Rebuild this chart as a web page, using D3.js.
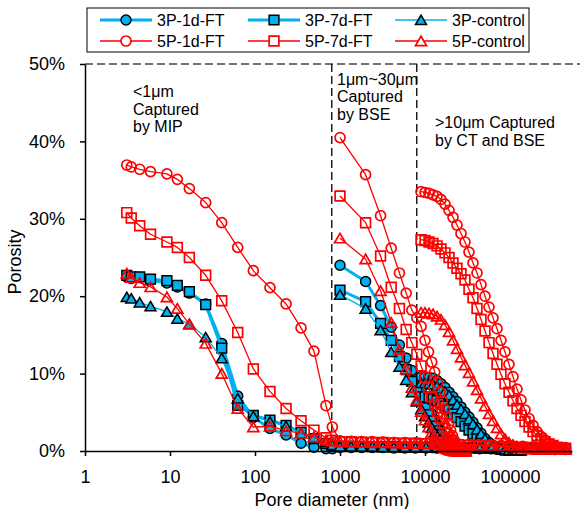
<!DOCTYPE html>
<html><head><meta charset="utf-8">
<script src="https://cdn.jsdelivr.net/npm/d3@7"></script>
<style>body{margin:0;background:#fff;} text{font-family:"Liberation Sans",Arial,sans-serif;}</style>
</head><body>
<script>
// ---- data (porosity in %) ----
const seriesNames = ["3P-1d-FT","3P-7d-FT","3P-control","5P-1d-FT","5P-7d-FT","5P-control"];
const xTicks = [1,10,100,1000,10000,100000];
const yTicks = [0,10,20,30,40,50];
const boundaries = [800, 8000];

const mipD = [3.1,3.5,4.4,5.9,9.2,12.2,16.9,26.3,40.6,62.6,95.6,150,232,348,494,684,812,
  1000,1350,1800,2400,3200,4300,5800,7700,10300,13800,18500,24700,33000,44000,59000,79000,106000,141000,189000,252000,337000,450000];
const bseD = [1000,2000,3000,4000,5000,6000,7000,8000,9000,10000,11000,12000,13000,14000,15000,
  16000,17000,18000,19000,20000,21000,22000,23000,24000,25000,26000,27000,28000,29000,30000];
const ctD = [8970,10000,11140,12420,13840,15420,17180,19150,21340,23780,26500,29530,32910,36700,40900,45580,
  50800,56600,63100,70300,78300,87300,97300,108400,120800,134600,150000,167300,186500,207800,231600,258100,
  287600,320500,357200,398100,443600];

const mip3P1d = [22.5,22.3,22.4,22.1,21.7,21.2,20.4,19.0,13.9,7.1,4.35,2.9,2.07,1.0,0.5,0.3,0.3,
  0.45,0.45,0.45,0.45,0.45,0.4,0.4,0.4,0.4,0.4,0.35,0.35,0.35,0.3,0.3,0.3,0.3,0.25,0.25,0.25,0.2,0.2];
const mip3P7d = [22.7,22.5,22.5,22.2,22.0,21.4,20.6,18.9,13.3,5.9,4.6,4.0,3.3,2.4,1.6,1.0,0.7,
  0.6,0.6,0.6,0.55,0.55,0.55,0.5,0.5,0.5,0.45,0.45,0.45,0.4,0.4,0.4,0.35,0.35,0.35,0.3,0.3,0.3,0.3];
const mip3Pc = [19.9,19.7,19.2,18.7,18.0,17.1,16.4,14.7,12.0,6.8,4.5,3.8,3.2,2.3,1.8,1.2,0.8,
  0.6,0.6,0.55,0.55,0.5,0.5,0.5,0.45,0.45,0.45,0.4,0.4,0.4,0.35,0.35,0.35,0.3,0.3,0.3,0.3,0.25,0.25];
const mip5P1d = [36.95,36.7,36.4,36.1,35.8,35.1,33.9,32.1,29.5,26.3,23.3,21.1,19.0,15.9,12.9,5.85,3.1,
  1.3,1.25,1.2,1.2,1.15,1.1,1.1,1.05,1.0,1.0,0.95,0.9,0.85,0.8,0.75,0.7,0.65,0.6,0.55,0.5,0.5,0.45];
const mip5P7d = [30.8,30.1,29.1,28.0,27.0,26.3,25.0,22.7,19.4,15.3,10.6,7.7,5.5,3.9,2.7,1.7,1.4,
  1.2,1.2,1.15,1.1,1.1,1.05,1.0,1.0,0.95,0.9,0.85,0.8,0.75,0.7,0.65,0.6,0.55,0.5,0.45,0.4,0.4,0.35];
const mip5Pc = [22.96,22.4,21.75,21.2,19.9,18.4,16.4,13.9,10.0,5.5,3.1,3.2,2.6,2.3,1.8,1.4,1.3,
  1.2,1.2,1.15,1.1,1.1,1.05,1.0,1.0,0.95,0.9,0.85,0.8,0.75,0.7,0.65,0.6,0.55,0.5,0.45,0.4,0.4,0.35];

const bse3P1d = [24.0,21.9,18.8,16.0,13.7,12.0,10.4,9.0,7.8,6.7,5.7,4.8,4.0,3.3,2.7,2.1,1.6,1.2,0.9,0.6,0.4,0.3,0.2,0.1,0.1,0,0,0,0,0];
const bse3P7d = [20.8,19.3,16.5,14.3,12.2,10.5,9.0,7.7,6.6,5.6,4.7,3.9,3.2,2.6,2.1,1.6,1.2,0.9,0.6,0.4,0.3,0.2,0.1,0.1,0,0,0,0,0,0];
const bse3Pc = [20.2,18.4,15.6,12.8,10.9,9.2,7.6,6.4,5.4,4.5,3.7,3.0,2.4,1.9,1.5,1.1,0.8,0.6,0.4,0.3,0.2,0.1,0.1,0,0,0,0,0,0,0];
const bse5P1d = [40.5,35.7,30.4,26.2,23.0,20.4,18.2,17.2,16.1,14.3,12.8,11.5,10.2,8.8,7.6,6.5,5.4,4.4,3.5,2.7,2.0,1.4,0.9,0.6,0.4,0.2,0.1,0.1,0,0];
const bse5P7d = [32.95,29.5,25.2,21.15,18.4,15.7,14.0,12.5,11.0,9.5,8.2,7.0,6.0,5.1,4.3,3.6,2.9,2.3,1.8,1.4,1.0,0.7,0.5,0.3,0.2,0.1,0.1,0,0,0];
const bse5Pc = [27.5,24.8,20.7,16.6,13.1,10.6,8.2,6.6,5.1,4.0,3.1,2.4,1.8,1.3,0.9,0.6,0.4,0.3,0.2,0.1,0.1,0,0,0,0,0,0,0,0,0];

const ct3P1d = [9.6,9.6,9.5,9.4,9.1,8.7,8.2,7.6,7.0,6.4,5.7,5.0,4.4,3.7,3.0,2.3,1.6,1.1,0.7,0.5,0.3,0.2,0.2,0.1,0.1,0.1];
const ct3P7d = [7.0,7.0,6.9,6.7,6.5,6.2,5.8,5.3,4.8,4.3,3.8,3.2,2.7,2.2,1.7,1.3,0.9,0.6,0.4,0.3,0.2,0.1,0.1,0.1,0.1,0.1];
const ct3Pc = [8.8,8.8,8.7,8.6,8.4,8.1,7.7,7.2,6.6,6.0,5.4,4.8,4.1,3.5,2.8,2.2,1.6,1.1,0.7,0.4,0.3,0.2,0.1,0.1,0.1,0.1];
const ct5P1d = [33.5,33.4,33.3,33.1,32.9,32.5,31.9,31.1,30.2,29.2,28.1,27.0,25.7,24.3,23.0,21.5,20.0,18.6,17.2,15.8,
  14.3,12.8,11.2,9.6,8.0,6.6,5.3,4.2,3.3,2.5,1.9,1.4,1.0,0.7,0.5,0.4,0.3];
const ct5P7d = [27.3,27.2,27.0,26.8,26.5,26.1,25.6,25.0,24.3,23.6,22.9,22.1,20.9,19.8,18.4,17.0,15.5,14.0,12.6,11.2,
  9.9,8.7,7.6,6.5,5.5,4.6,3.8,3.1,2.5,2.0,1.6,1.2,0.9,0.7,0.5,0.4,0.3];
const ct5Pc = [17.9,17.9,17.8,17.7,17.4,17.0,16.3,15.4,14.3,13.2,12.1,11.1,10.1,9.0,7.9,6.8,5.8,4.8,3.9,3.0,
  2.2,1.6,1.1,0.8,0.6,0.5,0.4,0.3,0.3,0.2,0.2,0.2,0.2,0.2,0.2,0.2,0.2];

const annotations = [
  {lines:["<1\u03bcm","Captured","by MIP"], x:133, y:97},
  {lines:["1\u03bcm~30\u03bcm","Captured","by BSE"], x:337, y:84.5},
  {lines:[">10\u03bcm Captured","by CT and BSE"], x:435, y:128}
];

// ---- styles ----
const BLUE = "#00B0F0", RED = "#FF0000";
const styles = {
  "3P-1d-FT":  {color:BLUE, lw:3,   shape:"circle",   fill:BLUE, stroke:"#000", mw:1.5},
  "3P-7d-FT":  {color:BLUE, lw:3,   shape:"square",   fill:BLUE, stroke:"#000", mw:1.5},
  "3P-control":{color:BLUE, lw:1.3, shape:"triangle", fill:BLUE, stroke:"#000", mw:1.5},
  "5P-1d-FT":  {color:RED,  lw:1.3, shape:"circle",   fill:"none", stroke:RED, mw:1.7},
  "5P-7d-FT":  {color:RED,  lw:1.3, shape:"square",   fill:"none", stroke:RED, mw:1.7},
  "5P-control":{color:RED,  lw:1.3, shape:"triangle", fill:"none", stroke:RED, mw:1.7}
};
const segs = {
  "3P-1d-FT":  [[mipD,mip3P1d],[bseD,bse3P1d],[ctD,ct3P1d]],
  "3P-7d-FT":  [[mipD,mip3P7d],[bseD,bse3P7d],[ctD,ct3P7d]],
  "3P-control":[[mipD,mip3Pc],[bseD,bse3Pc],[ctD,ct3Pc]],
  "5P-1d-FT":  [[mipD,mip5P1d],[bseD,bse5P1d],[ctD,ct5P1d]],
  "5P-7d-FT":  [[mipD,mip5P7d],[bseD,bse5P7d],[ctD,ct5P7d]],
  "5P-control":[[mipD,mip5Pc],[bseD,bse5Pc],[ctD,ct5Pc]]
};

const W = 580, H = 509;
const svg = d3.select("body").append("svg").attr("width",W).attr("height",H);
const x = d3.scaleLog().domain([1, 536000]).range([85, 572]);
const y = d3.scaleLinear().domain([0, 50]).range([451, 64]);

function markerPath(shape){
  if(shape==="circle") return d3.symbol(d3.symbolCircle, Math.PI*25)();
  if(shape==="square") return d3.symbol(d3.symbolSquare, 95)();
  return "M0,-4.8L5.5,4.6L-5.5,4.6Z";
}

// top dashed line and boundary dashed lines
svg.append("line").attr("x1",x(1)).attr("x2",W).attr("y1",y(50)).attr("y2",y(50))
  .attr("stroke","#444").attr("stroke-width",1.3).attr("stroke-dasharray","8,4");
boundaries.forEach(b=>{
  svg.append("line").attr("x1",x(b)).attr("x2",x(b)).attr("y1",y(50)).attr("y2",y(0))
    .attr("stroke","#000").attr("stroke-width",1.3).attr("stroke-dasharray","8,4");
});

// annotations
annotations.forEach(a=>{
  const t = svg.append("text").attr("x",a.x).attr("y",a.y).attr("font-size",16).attr("fill","#000");
  a.lines.forEach((l,i)=>t.append("tspan").attr("x",a.x).attr("dy", i===0?0:17.6).text(l));
});

// series
const line = d3.line().x(d=>x(d[0])).y(d=>y(d[1]));
seriesNames.forEach(name=>{
  const st = styles[name];
  const g = svg.append("g");
  segs[name].forEach(([ds,vs])=>{
    const pts = vs.map((v,i)=>[ds[i], v]);
    g.append("path").attr("d",line(pts)).attr("fill","none")
      .attr("stroke",st.color).attr("stroke-width",st.lw).attr("stroke-linejoin","round");
    g.selectAll(null).data(pts).enter().append("path")
      .attr("d",markerPath(st.shape))
      .attr("transform",d=>`translate(${x(d[0])},${y(d[1])})`)
      .attr("fill",st.fill).attr("stroke",st.stroke).attr("stroke-width",st.mw);
  });
});

// axes
const xAxis = svg.append("g").attr("transform",`translate(0,${y(0)})`)
  .call(d3.axisBottom(x).tickValues(xTicks).tickFormat(d3.format("d")).tickSize(5).tickSizeOuter(0).tickPadding(14));
const yAxis = svg.append("g").attr("transform",`translate(${x(1)},0)`)
  .call(d3.axisLeft(y).tickValues(yTicks).tickFormat(d=>d+"%").tickSize(5).tickSizeOuter(0).tickPadding(15));
[xAxis,yAxis].forEach(a=>{
  a.selectAll("path,line").attr("stroke","#000").attr("stroke-width",1.5);
  a.selectAll("text").attr("font-size",18).attr("fill","#000").attr("font-family",'"Liberation Sans",Arial,sans-serif');
});

svg.append("text").attr("x",332).attr("y",506).attr("text-anchor","middle")
  .attr("font-size",18).text("Pore diameter (nm)");
svg.append("text").attr("transform","translate(21,262) rotate(-90)").attr("text-anchor","middle")
  .attr("font-size",18).text("Porosity");

// legend
const lg = svg.append("g");
lg.append("rect").attr("x",87).attr("y",8).attr("width",442).attr("height",44)
  .attr("fill","#fff").attr("stroke","#000").attr("stroke-width",1);
const colX = [100,248,395], rowY = [20,41];
seriesNames.forEach((name,i)=>{
  const st = styles[name];
  const cx = colX[i%3], cy = rowY[Math.floor(i/3)];
  lg.append("line").attr("x1",cx).attr("x2",cx+52).attr("y1",cy).attr("y2",cy)
    .attr("stroke",st.color).attr("stroke-width",st.lw);
  lg.append("path").attr("d",markerPath(st.shape)).attr("transform",`translate(${cx+26},${cy})`)
    .attr("fill",st.fill==="none"?"#fff":st.fill).attr("stroke",st.stroke).attr("stroke-width",st.mw);
  lg.append("text").attr("x",cx+57).attr("y",cy+6).attr("font-size",16).text(name);
});
</script>
</body></html>
